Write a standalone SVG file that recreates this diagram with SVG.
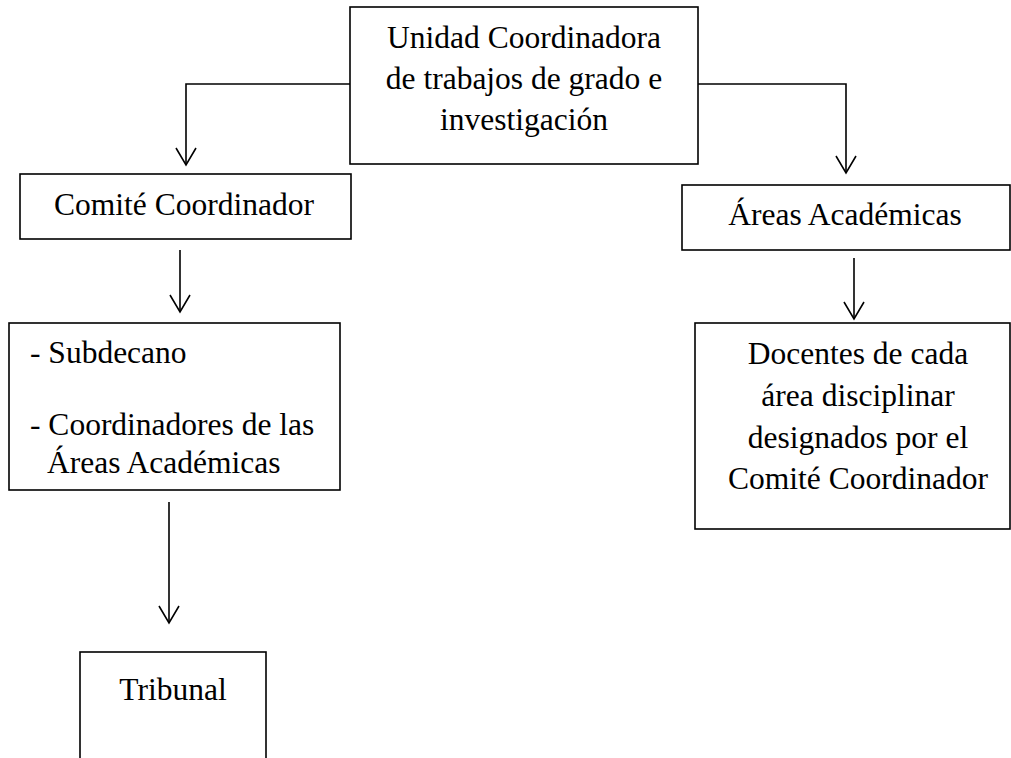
<svg xmlns="http://www.w3.org/2000/svg" width="1011" height="758" viewBox="0 0 1011 758">
  <style>
    .box { fill: #ffffff; stroke: #000000; stroke-width: 1.6; }
    .lbl { font-family: "Liberation Serif", "Times New Roman", serif; font-size: 31.5px; fill: #000000; }
    .mid { text-anchor: middle; }
    .conn { fill: none; stroke: #000000; stroke-width: 1.6; }
  </style>
  <defs>
    <marker id="vee" markerUnits="userSpaceOnUse" markerWidth="40" markerHeight="40" refX="0" refY="0" orient="auto" overflow="visible">
      <path d="M-17,-10 L0,0 L-17,10" fill="none" stroke="#000000" stroke-width="1.6"/>
    </marker>
  </defs>
  <rect width="1011" height="758" fill="#ffffff"/>

  <g id="connectors">
    <path class="conn" d="M350,84 H186 V165" marker-end="url(#vee)"/>
    <path class="conn" d="M698,84 H846 V173" marker-end="url(#vee)"/>
    <path class="conn" d="M180,250 V312" marker-end="url(#vee)"/>
    <path class="conn" d="M169,502 V623" marker-end="url(#vee)"/>
    <path class="conn" d="M854,258 V319" marker-end="url(#vee)"/>
  </g>

  <g id="unidad">
    <rect class="box" x="350" y="7" width="348" height="157"/>
    <text class="lbl mid" x="524" y="48">Unidad Coordinadora</text>
    <text class="lbl mid" x="524" y="89">de trabajos de grado e</text>
    <text class="lbl mid" x="524" y="130">investigación</text>
  </g>

  <g id="comite">
    <rect class="box" x="20" y="174" width="331" height="65"/>
    <text class="lbl mid" x="184" y="215">Comité Coordinador</text>
  </g>

  <g id="areas">
    <rect class="box" x="682" y="185" width="328" height="65"/>
    <text class="lbl mid" x="845" y="225">Áreas Académicas</text>
  </g>

  <g id="miembros">
    <rect class="box" x="9" y="323" width="331" height="167"/>
    <text class="lbl" x="30" y="363">- Subdecano</text>
    <text class="lbl" x="30" y="435">- Coordinadores de las</text>
    <text class="lbl" x="47" y="473">Áreas Académicas</text>
  </g>

  <g id="docentes">
    <rect class="box" x="695" y="323" width="315" height="206"/>
    <text class="lbl mid" x="858" y="364">Docentes de cada</text>
    <text class="lbl mid" x="858" y="406">área disciplinar</text>
    <text class="lbl mid" x="858" y="448">designados por el</text>
    <text class="lbl mid" x="858" y="489">Comité Coordinador</text>
  </g>

  <g id="tribunal">
    <rect class="box" x="80" y="652" width="186" height="120"/>
    <text class="lbl mid" x="173" y="700">Tribunal</text>
  </g>
</svg>
